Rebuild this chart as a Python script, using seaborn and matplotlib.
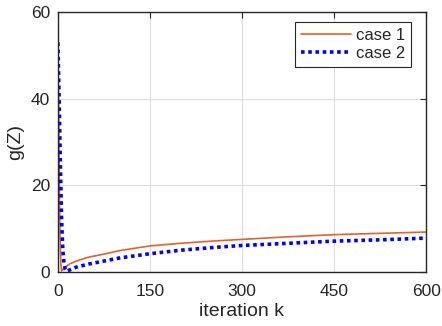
import numpy as np
import pandas as pd
import matplotlib
matplotlib.use("Agg")
import matplotlib.pyplot as plt
import seaborn as sns

# values
k_case1 = [0, 1, 2, 3, 4, 5, 6, 10, 20, 30, 50, 75, 100, 150, 200, 250, 300, 375, 450, 525, 600]
g_case1 = [52, 40, 25, 12, 5, 1.5, 0.2, 0.9, 1.9, 2.5, 3.4, 4.1, 4.9, 6.0, 6.6, 7.1, 7.5, 8.1, 8.6, 8.9, 9.2]
k_case2 = [0, 2, 4, 6, 8, 10, 12, 14, 20, 30, 50, 75, 100, 150, 200, 250, 300, 375, 450, 525, 600]
g_case2 = [53, 40, 25, 12, 5, 2, 0.6, 0.1, 0.5, 1.1, 1.8, 2.5, 3.2, 4.2, 5.0, 5.6, 6.1, 6.6, 7.1, 7.4, 7.8]
x_ticks = [0, 150, 300, 450, 600]
y_ticks = [0, 20, 40, 60]

ORANGE = "#E0652C"
BLUE = "#0000FF"
DARK = "#262626"

sns.set_style("white")
plt.rcParams["font.family"] = ["Liberation Sans", "DejaVu Sans"]

fig = plt.figure(figsize=(4.42, 3.26), dpi=100)
ax = fig.add_axes([0.131, 0.166, 0.833, 0.797])

sns.lineplot(x=k_case1, y=g_case1, ax=ax, color=ORANGE, lw=1.2, label="case 1")
sns.lineplot(x=k_case2, y=g_case2, ax=ax, color=BLUE, lw=2.6, ls=(0, (1, 1)),
             label="case 2")

ax.set_xlim(0, 600)
ax.set_ylim(0, 60)
ax.set_xticks(x_ticks)
ax.set_yticks(y_ticks)
ax.grid(True, color="#dcdcdc", lw=0.8)
ax.set_axisbelow(True)
for s in ax.spines.values():
    s.set_color(DARK)
    s.set_linewidth(1.0)
ax.tick_params(direction="in", length=4, width=0.8, colors=DARK,
               labelsize=12.5, top=True, right=True)
ax.tick_params(axis="x", pad=8.5)
ax.tick_params(axis="y", pad=5.5)
ax.set_xlabel("iteration k", fontsize=14, color=DARK, labelpad=3)
ax.set_ylabel("g(Z)", fontsize=14, color=DARK, labelpad=5)

leg = ax.legend(loc="upper right", fontsize=12, frameon=True, fancybox=False,
                handlelength=3.0, handletextpad=0.3, borderpad=0.35,
                labelspacing=0.2, borderaxespad=0,
                bbox_to_anchor=(0.959, 0.962))
leg.get_frame().set_edgecolor(DARK)
leg.get_frame().set_linewidth(0.8)
leg.get_frame().set_alpha(1)

fig.savefig("out.png", dpi=100, facecolor="white")
